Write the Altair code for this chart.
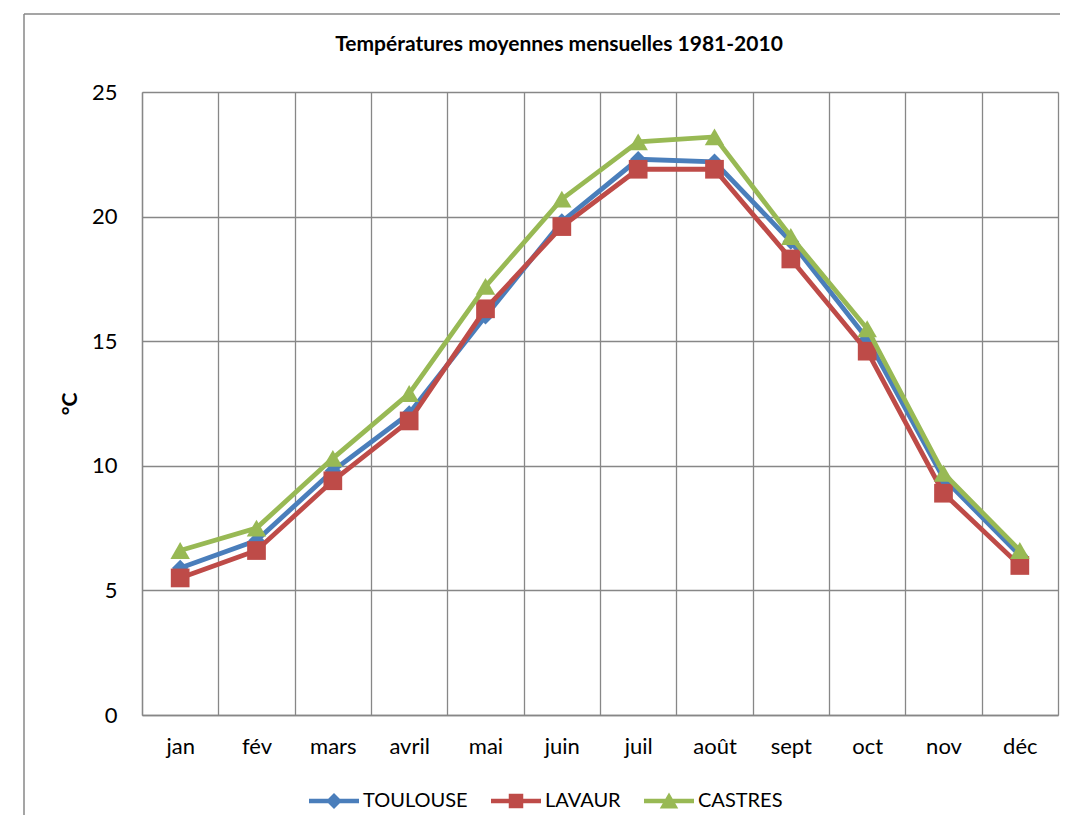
import altair as alt
import pandas as pd

months = ["jan", "fév", "mars", "avril", "mai", "juin", "juil", "août", "sept", "oct", "nov", "déc"]
series_names = ["TOULOUSE", "LAVAUR", "CASTRES"]
toulouse = [5.9, 7.0, 9.8, 12.1, 16.0, 19.8, 22.3, 22.2, 19.0, 15.1, 9.5, 6.4]
lavaur = [5.5, 6.6, 9.4, 11.8, 16.3, 19.6, 21.9, 21.9, 18.3, 14.6, 8.9, 6.0]
castres = [6.6, 7.5, 10.3, 12.9, 17.2, 20.7, 23.0, 23.2, 19.2, 15.5, 9.7, 6.6]
y_ticks = [0, 5, 10, 15, 20, 25]

colors = ["#4A7EBB", "#BE4B48", "#98B954"]
chart_shapes = ["diamond", "square", "triangle-up"]
chart_sizes = [270, 350, 380]
legend_paths = [
    "M-1,-0.09H1V0.09H-1Z M0,-0.32L0.32,0L0,0.32L-0.32,0Z",
    "M-1,-0.09H1V0.09H-1Z M-0.29,-0.29H0.29V0.29H-0.29Z",
    "M-1,-0.09H1V0.09H-1Z M0,-0.34L0.37,0.3H-0.37Z",
]

rows = []
for name, vals in zip(series_names, [toulouse, lavaur, castres]):
    for m, v in zip(months, vals):
        rows.append({"mois": m, "serie": name, "temp": v})
df = pd.DataFrame(rows)

FONT = "Lato"
GRID = "#878787"

x_enc = alt.X(
    "mois:N",
    sort=months,
    scale=alt.Scale(type="band", domain=months, paddingInner=0, paddingOuter=0),
    bandPosition=0.5,
    axis=alt.Axis(
        title=None, tickBand="extent", grid=True, ticks=False, labelAngle=0,
        labelPadding=21, labelFontSize=22, labelFont=FONT, labelColor="black",
        domainColor=GRID, domainWidth=1.3, gridColor=GRID, gridWidth=1.3,
    ),
)
y_enc = alt.Y(
    "temp:Q",
    scale=alt.Scale(domain=[0, 25], nice=False),
    axis=alt.Axis(
        title="°C", values=y_ticks, grid=True, ticks=False, labelPadding=25,
        labelFontSize=22, labelFont=FONT, labelColor="black",
        domainColor=GRID, domainWidth=1.3, gridColor=GRID, gridWidth=1.3,
        titleFont=FONT, titleFontSize=21, titleFontWeight="bold", titleColor="black",
        titlePadding=11,
    ),
)

layers = []
for name, col, shp, sz in zip(series_names, colors, chart_shapes, chart_sizes):
    base = alt.Chart(df).transform_filter(alt.datum.serie == name)
    line = base.mark_line(strokeWidth=4.8, color=col).encode(x=x_enc, y=y_enc)
    pts = base.mark_point(filled=True, opacity=1, shape=shp, size=sz, strokeWidth=0, color=col).encode(
        x=x_enc, y=y_enc
    )
    layers += [line, pts]

leg = alt.Legend(
    title=None, orient="none", legendX=167, legendY=684, direction="horizontal",
    symbolSize=2500, labelFont=FONT, labelFontSize=20, labelColor="black",
    labelOffset=4, columnPadding=23, symbolStrokeWidth=0, symbolOpacity=1,
)
# invisible layer that only carries the legend (line + marker symbols)
legend_layer = (
    alt.Chart(df)
    .mark_point(filled=True, opacity=0, size=10, strokeWidth=0)
    .encode(
        x=x_enc, y=y_enc,
        fill=alt.Fill("serie:N", scale=alt.Scale(domain=series_names, range=colors), legend=leg),
        shape=alt.Shape("serie:N", scale=alt.Scale(domain=series_names, range=legend_paths), legend=leg),
    )
)

frame_data = alt.Data(values=[{"k": 0}])
frame_left = alt.Chart(frame_data).mark_rule(color=GRID, strokeWidth=1.5).encode(
    x=alt.value(-118), y=alt.value(-78), y2=alt.value(760)
)
frame_top = alt.Chart(frame_data).mark_rule(color=GRID, strokeWidth=1.5).encode(
    x=alt.value(-118), x2=alt.value(960), y=alt.value(-78)
)

chart = (
    alt.layer(frame_left, frame_top, *layers, legend_layer)
    .properties(
        width=916, height=623,
        padding={"left": 134, "top": 84, "right": 2, "bottom": 100},
        autosize="none",
        title=alt.TitleParams(
            "Températures moyennes mensuelles 1981-2010",
            font=FONT, fontSize=21, fontWeight="bold", color="black",
            anchor="middle", dx=-41, offset=0, dy=42,
        ),
        background="white",
    )
    .configure_view(stroke=None)
)

chart.save("out.html", embed_options={"renderer": "svg", "actions": False})
